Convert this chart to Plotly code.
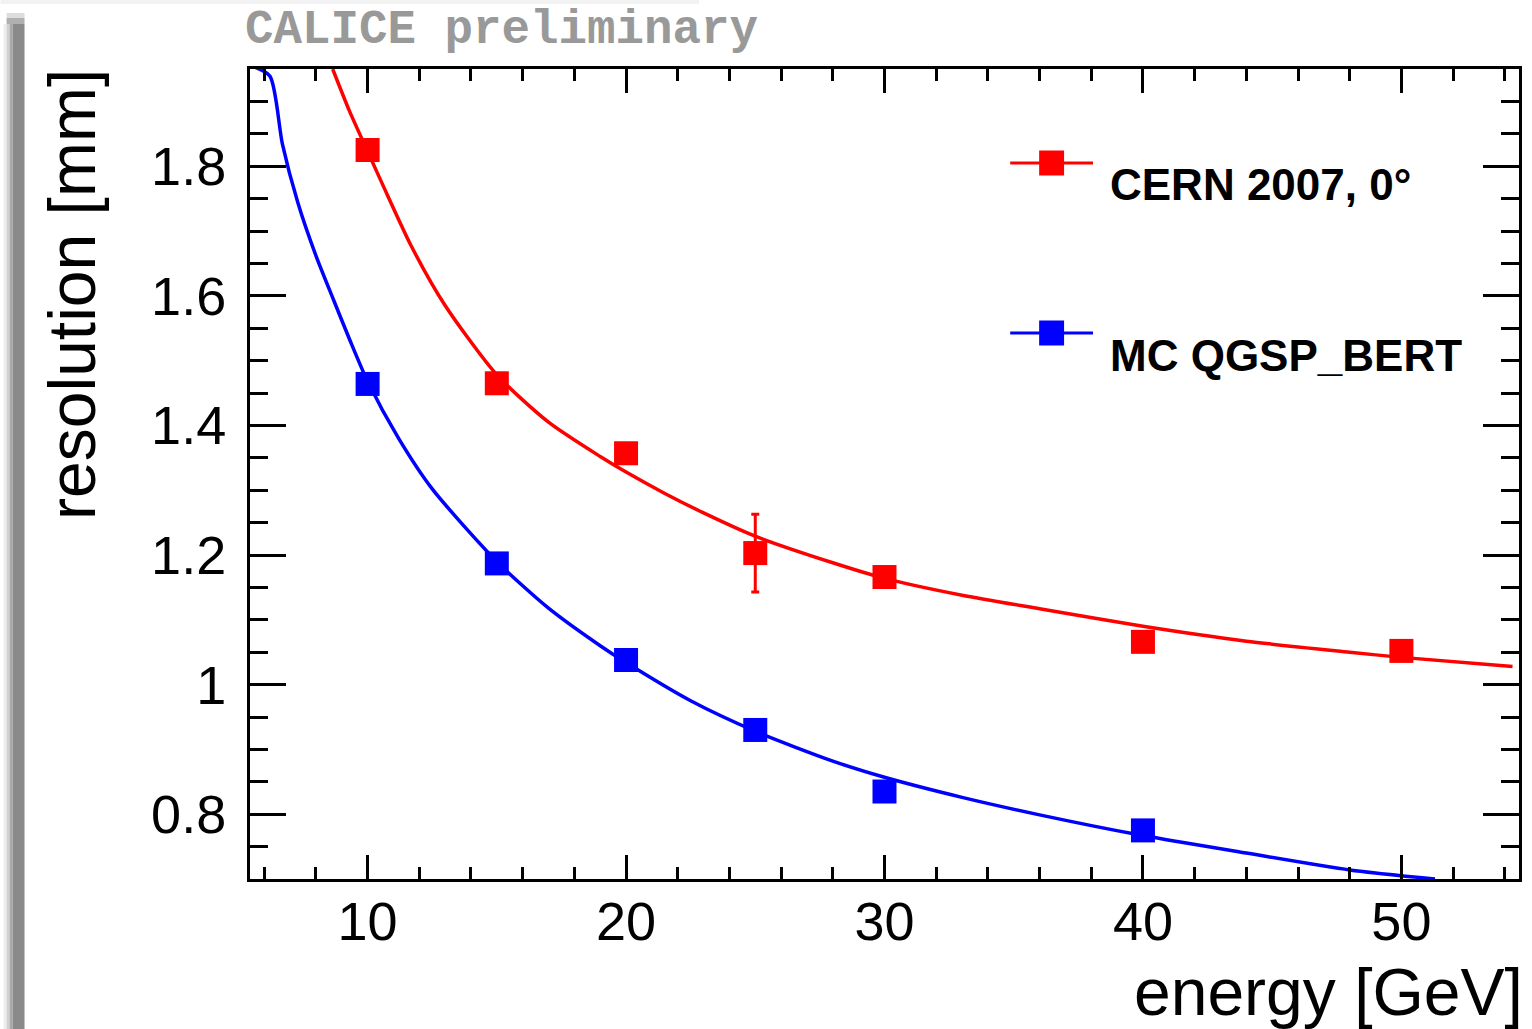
import plotly.graph_objects as go

# ---------------- data ----------------
energy_cern = [10, 15, 20, 25, 30, 40, 50]
res_cern = [1.825, 1.465, 1.357, 1.203, 1.166, 1.066, 1.052]
err_cern = [0, 0, 0, 0.06, 0, 0, 0]

energy_mc = [10, 15, 20, 25, 30, 40]
res_mc = [1.464, 1.187, 1.038, 0.930, 0.835, 0.775]

# fitted curves
fit_cern_e = [8.65, 9.3, 10, 10.6, 11.7, 13, 15, 17, 19, 20, 21.5, 23, 25, 28, 30,
              33, 36, 40, 44, 48, 50, 54.3]
fit_cern_r = [1.95, 1.885, 1.823, 1.770, 1.676, 1.585, 1.478, 1.405, 1.352, 1.328,
              1.295, 1.265, 1.229, 1.188, 1.164, 1.138, 1.117, 1.090, 1.067, 1.050,
              1.042, 1.028]

fit_mc_e = [5.5, 6.22, 6.7, 7.3, 8.0, 8.7, 9.3, 10, 11.2, 12.5, 15, 17, 19, 20, 22.5,
            25, 28, 30, 33, 36, 40, 44, 48, 51.3]
fit_mc_r = [1.955, 1.939, 1.835, 1.744, 1.662, 1.592, 1.533, 1.468, 1.380, 1.302,
            1.190, 1.118, 1.060, 1.034, 0.975, 0.928, 0.882, 0.857, 0.826, 0.799,
            0.767, 0.740, 0.714, 0.700]

x_ticks = [10, 20, 30, 40, 50]
x_tick_labels = ["10", "20", "30", "40", "50"]
y_ticks = [0.8, 1.0, 1.2, 1.4, 1.6, 1.8]
y_tick_labels = ["0.8", "1", "1.2", "1.4", "1.6", "1.8"]

series_names = ["CERN 2007, 0°", "MC QGSP_BERT"]
colors = ["#ff0000", "#0000ff"]

# ---------------- layout geometry ----------------
W, H = 1532, 1029
L, R, T, B = 250, 10, 69, 150
PW, PH = W - L - R, H - T - B


def px(x):
    return (x - L) / PW


def py(y):
    return (H - B - y) / PH


FONT = "Liberation Sans, Arial, Helvetica, sans-serif"

fig = go.Figure()

fig.add_trace(go.Scatter(x=fit_cern_e, y=fit_cern_r, mode="lines",
                         line=dict(color=colors[0], width=3.5, shape="spline", smoothing=0.7),
                         showlegend=False, hoverinfo="skip"))
fig.add_trace(go.Scatter(x=fit_mc_e, y=fit_mc_r, mode="lines",
                         line=dict(color=colors[1], width=3.5, shape="spline", smoothing=0.7),
                         showlegend=False, hoverinfo="skip"))
fig.add_trace(go.Scatter(x=energy_cern, y=res_cern, mode="markers", name=series_names[0],
                         marker=dict(symbol="square", size=24, color=colors[0]),
                         error_y=dict(type="data", array=err_cern, color=colors[0],
                                      thickness=3, width=4),
                         showlegend=False))
fig.add_trace(go.Scatter(x=energy_mc, y=res_mc, mode="markers", name=series_names[1],
                         marker=dict(symbol="square", size=24, color=colors[1]),
                         showlegend=False))

axis_common = dict(showline=True, linecolor="black", linewidth=3, mirror="ticks",
                   ticks="inside", tickwidth=3, tickcolor="black", showgrid=False,
                   zeroline=False, tickfont=dict(family=FONT, size=54, color="black"))

fig.update_xaxes(range=[5.45, 54.55], tickmode="array", tickvals=x_ticks,
                 ticktext=x_tick_labels, ticklen=24, ticklabelstandoff=-7,
                 minor=dict(ticks="inside", dtick=2, tick0=0, ticklen=12,
                            tickwidth=3, tickcolor="black"),
                 **axis_common)
fig.update_yaxes(range=[0.7, 1.95], tickmode="array", tickvals=y_ticks,
                 ticktext=y_tick_labels, ticklen=36, ticklabelstandoff=10,
                 minor=dict(ticks="inside", dtick=0.05, tick0=0, ticklen=18,
                            tickwidth=3, tickcolor="black"),
                 **axis_common)

shapes = []
# slide shadow on the left and top
shapes.append(dict(type="rect", xref="paper", yref="paper", x0=px(0), x1=px(700),
                   y0=py(0), y1=py(4), fillcolor="#f2f2f2", line=dict(width=0), layer="below"))
for (x0, x1, c) in [(3, 6, "#ececec"), (6, 9, "#d0d0d0"), (9, 12, "#a9a9a9"), (12, 24, "#8a8a8a")]:
    shapes.append(dict(type="rect", xref="paper", yref="paper", x0=px(x0), x1=px(x1),
                       y0=py(24), y1=py(1029), fillcolor=c, line=dict(width=0), layer="below"))
for (y0, y1, c) in [(13, 18, "#dddddd"), (18, 24, "#b0b0b0")]:
    shapes.append(dict(type="rect", xref="paper", yref="paper", x0=px(6), x1=px(24),
                       y0=py(y0), y1=py(y1), fillcolor=c, line=dict(width=0), layer="below"))

# legend (drawn by hand)
legend_rows = [163, 333]
annotations = []
for name, c, yy in zip(series_names, colors, legend_rows):
    shapes.append(dict(type="line", xref="paper", yref="paper", x0=px(1012), x1=px(1095),
                       y0=py(yy), y1=py(yy), line=dict(color=c, width=3)))
    shapes.append(dict(type="rect", xref="paper", yref="paper", x0=px(1041), x1=px(1066),
                       y0=py(yy - 12.5), y1=py(yy + 12.5), fillcolor=c, line=dict(width=0)))
    annotations.append(dict(text="<b>" + name + "</b>", xref="paper", yref="paper",
                            x=px(1110), y=py(yy + 22), xanchor="left", yanchor="middle",
                            showarrow=False, font=dict(family=FONT, size=44, color="black")))

annotations.append(dict(text="<b>CALICE preliminary</b>", xref="paper", yref="paper",
                        x=px(243), y=py(30), xanchor="left", yanchor="middle", showarrow=False,
                        font=dict(family="Liberation Mono, Courier New, monospace", size=47.5,
                                  color="#999999")))
annotations.append(dict(text="energy [GeV]", xref="paper", yref="paper",
                        x=px(1528), y=py(992), xanchor="right", yanchor="middle", showarrow=False,
                        font=dict(family=FONT, size=66, color="black")))
annotations.append(dict(text="resolution [mm]", xref="paper", yref="paper", textangle=-90,
                        x=px(71), y=py(67), xanchor="center", yanchor="top", showarrow=False,
                        font=dict(family=FONT, size=66, color="black")))

fig.update_layout(width=W, height=H, margin=dict(l=L, r=R, t=T, b=B),
                  paper_bgcolor="white", plot_bgcolor="white",
                  shapes=shapes, annotations=annotations, showlegend=False)

fig.write_html("out.html")
